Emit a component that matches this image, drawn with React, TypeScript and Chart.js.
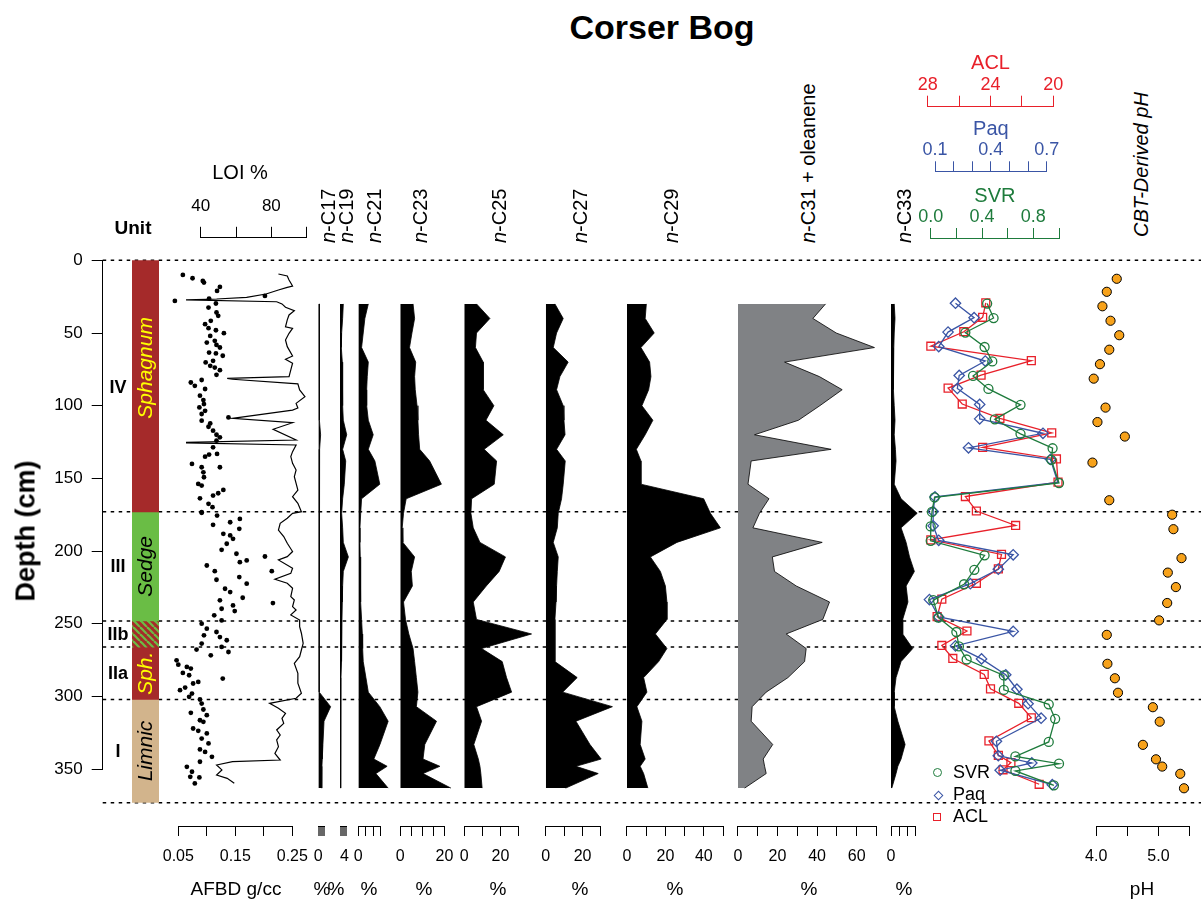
import React, { useEffect, useRef } from 'react';
import { Chart, registerables } from 'chart.js';

Chart.register(...registerables);

// ------------------------------------------------------------------ data
const depthTicks = [0, 50, 100, 150, 200, 250, 300, 350];
const unitBoundaries = [0, 173, 248, 266, 302, 373];
const unitStart = [0, 173, 248, 266, 302];
const unitEnd = [173, 248, 266, 302, 373];
const unitVegetation = ['Sphagnum', 'Sedge', '', 'Sph.', 'Limnic'];
const unitVegetationDepth = [74, 210.5, 257, 284, 337.5];
const unitRoman = ['IV', 'III', 'IIb', 'IIa', 'I'];
const unitRomanDepth = [88, 211, 257.5, 284.5, 338];

const loiDepth = [9.4, 10.8, 13.6, 17.7, 18.6, 20.4, 23.2, 25.5, 26.6, 27.2, 28.5, 30, 32.3, 34.7, 37.6, 41, 45.7, 46.8, 50.2, 54.8, 59.4, 65.8, 68.1, 70.8, 75.4, 80, 81.2, 81.8, 85, 89.2, 93.8, 98.4, 101.6, 103, 108.7, 111.7, 116.2, 123.6, 125.4, 127, 131.6, 135, 139.6, 144.2, 148.8, 153.4, 158, 162.6, 167.1, 172.9, 174, 177.4, 180.9, 185.5, 190, 194.6, 200.3, 203.8, 206.1, 211.8, 215.3, 219.4, 222.1, 225.6, 231.3, 233.6, 238.2, 240.5, 243.9, 247.4, 252, 256.5, 263.4, 268, 272.6, 277.2, 284, 290.9, 297.8, 301.2, 304.7, 308.1, 311.6, 315, 318.5, 323, 326.5, 329.9, 334.5, 339.1, 343.7, 344.8, 347.1, 350.5, 354, 356.3, 359.7];
const loiValue = [84, 89, 90, 92, 89, 84, 77, 66, 49, 30, 83, 86, 88, 93, 90, 89, 88, 92, 90, 88, 89, 92, 88, 92, 91, 90, 55, 58, 95, 96, 99, 94, 95, 92, 58, 92, 81, 94, 25, 94, 92, 91, 92, 94, 93, 94, 95, 92, 95, 97, 92, 89, 85, 84, 87, 89, 92, 89, 84, 92, 91, 82, 89, 92, 91, 93, 92, 94, 91, 96, 96, 97, 98, 97, 96, 93, 95, 95, 97, 94, 79, 84, 88, 86, 87, 83, 85, 83, 84, 82, 85, 58, 49, 52, 49, 55, 59];

const afbdDepth = [9.4, 11.7, 13.5, 14.7, 17.7, 20.4, 23.9, 25.7, 27.3, 29.1, 31.9, 35.3, 37.6, 41, 43.3, 46.1, 47.5, 49.5, 51.4, 54.8, 56, 57.6, 59.4, 62.9, 63.5, 65.1, 68.6, 69.7, 72, 73.2, 75, 78.2, 81.8, 83.5, 85.8, 88, 92.6, 95.6, 98.4, 100.7, 103, 105.2, 107.6, 109.8, 111.7, 114, 116.7, 119.5, 121.3, 123.6, 128.2, 132.7, 133.2, 134.6, 139.6, 141.9, 141.9, 145.4, 148.8, 153.4, 154.5, 157.5, 159.8, 161.4, 163.3, 167.1, 169.4, 172.9, 173.3, 175.2, 177.5, 179.8, 181.6, 184.3, 187.8, 188.9, 191.2, 194.6, 198.8, 201.5, 203.4, 206.1, 207.3, 209.6, 213.5, 213.5, 217.6, 219.4, 222.1, 225.6, 227.9, 231.8, 233.6, 235.5, 237.1, 239.4, 241, 243.9, 247.4, 249.7, 253.1, 255.4, 257.7, 258.9, 261.1, 263.4, 265.7, 267.5, 269.2, 271.5, 274.9, 277.9, 279.5, 280.6, 283.6, 285.2, 287.5, 289.8, 290.9, 293.7, 295.5, 297.8, 300.1, 301.9, 304.7, 308.8, 311.1, 312.7, 316.2, 317.3, 321.9, 323.5, 325.3, 328.8, 332.2, 336.3, 338, 341.4, 344.8, 348.3, 351.7, 355.2, 355.6, 359.7];
const afbdValue = [0.058, 0.075, 0.093, 0.095, 0.123, 0.118, 0.202, 0.104, 0.044, 0.116, 0.103, 0.117, 0.12, 0.107, 0.097, 0.103, 0.116, 0.13, 0.106, 0.114, 0.1, 0.117, 0.123, 0.104, 0.116, 0.128, 0.111, 0.098, 0.106, 0.114, 0.123, 0.117, 0.091, 0.072, 0.079, 0.097, 0.088, 0.094, 0.095, 0.087, 0.097, 0.091, 0.138, 0.091, 0.106, 0.103, 0.111, 0.117, 0.123, 0.117, 0.111, 0.118, 0.104, 0.097, 0.074, 0.123, 0.091, 0.094, 0.095, 0.085, 0.091, 0.129, 0.12, 0.111, 0.088, 0.103, 0.11, 0.091, 0.091, 0.118, 0.158, 0.141, 0.111, 0.157, 0.129, 0.141, 0.146, 0.135, 0.126, 0.152, 0.202, 0.17, 0.158, 0.1, 0.214, 0.114, 0.157, 0.117, 0.17, 0.132, 0.141, 0.163, 0.123, 0.216, 0.146, 0.126, 0.149, 0.113, 0.126, 0.091, 0.1, 0.117, 0.095, 0.123, 0.135, 0.091, 0.126, 0.082, 0.138, 0.107, 0.047, 0.05, 0.065, 0.072, 0.058, 0.069, 0.128, 0.085, 0.076, 0.062, 0.053, 0.074, 0.069, 0.088, 0.091, 0.094, 0.072, 0.1, 0.088, 0.094, 0.076, 0.085, 0.1, 0.091, 0.103, 0.088, 0.097, 0.109, 0.088, 0.065, 0.074, 0.071, 0.087, 0.079];

const sampleDepth = [30, 40, 50, 60, 70, 80, 89, 100, 110, 120, 130, 138, 154, 164, 174, 184, 194, 204, 214, 224, 235, 247, 257, 267, 276, 287, 297, 307, 317, 333, 343, 348, 353, 363];
const nC17 = [0.9, 0.9, 0.8, 0.8, 0.9, 1.0, 1.0, 1.2, 1.4, 2.1, 1.2, 1.0, 1.0, 0.9, 0.9, 0.9, 0.9, 0.9, 0.9, 0.8, 0.8, 0.8, 0.8, 0.8, 0.8, 0.8, 0.9, 11.2, 5.2, 4.2, 3.6, 3.3, 3.3, 3.0];
const nC19 = [3.0, 2.4, 1.5, 1.2, 2.1, 2.4, 2.4, 2.4, 3.0, 6.1, 2.4, 5.2, 3.9, 2.4, 1.5, 2.4, 3.0, 7.6, 3.0, 2.4, 2.1, 1.8, 1.5, 1.5, 1.2, 0.9, 0.9, 0.6, 0.6, 0.6, 0.6, 0.6, 0.6, 0.6];
const nC21 = [6.7, 4.4, 3.3, 2.2, 6.7, 6.0, 5.6, 5.6, 6.7, 10.0, 6.7, 11.1, 14.4, 2.2, 1.6, 1.1, 1.1, 1.3, 1.3, 1.6, 1.8, 2.2, 2.7, 2.9, 3.3, 5.1, 6.7, 14.4, 20.0, 14.5, 10.4, 19.3, 11.8, 20.0];
const nC23 = [5.8, 6.5, 5.3, 4.2, 7.0, 6.5, 6.8, 7.6, 8.0, 8.3, 8.8, 13.3, 18.6, 2.7, 1.5, 0.9, 1.2, 6.5, 5.0, 5.5, 1.5, 2.4, 3.9, 5.8, 6.5, 7.3, 8.0, 7.3, 16.4, 11.1, 10.3, 17.9, 10.3, 22.9];
const nC25 = [6.8, 14.2, 6.8, 6.2, 10.5, 10.5, 10.5, 16.4, 12.0, 21.6, 11.0, 17.9, 16.6, 4.1, 3.7, 5.0, 8.7, 22.8, 19.3, 12.2, 5.0, 6.8, 37.2, 9.6, 21.0, 23.4, 26.2, 6.8, 9.6, 5.3, 7.8, 8.7, 9.2, 9.9];
const nC27 = [5.0, 9.5, 5.9, 4.1, 12.2, 7.7, 5.9, 9.5, 9.9, 10.5, 5.9, 10.6, 9.5, 8.6, 6.8, 6.3, 4.1, 6.8, 6.3, 5.9, 5.6, 5.0, 5.0, 5.0, 5.0, 17.1, 9.2, 36.2, 16.4, 24.0, 30.1, 16.4, 28.5, 10.8];
const nC29 = [10.1, 9.5, 14.2, 7.3, 11.8, 12.5, 11.3, 7.8, 13.5, 9.5, 4.9, 7.3, 7.3, 39.9, 43.4, 48.6, 26.0, 12.2, 17.4, 20.0, 20.8, 20.8, 14.8, 20.8, 16.5, 8.7, 10.4, 5.2, 7.8, 6.9, 9.5, 6.9, 8.7, 10.9];
const nC31Oleanene = [44.3, 37.9, 49.7, 69.0, 23.6, 41.2, 52.7, 41.4, 30.6, 8.4, 47.1, 6.7, 5.1, 15.7, 10.9, 7.6, 42.6, 17.4, 18.5, 29.5, 46.3, 42.9, 24.4, 34.5, 33.7, 25.3, 14.3, 7.2, 6.7, 17.6, 12.8, 13.5, 14.3, 3.4];
const nC33 = [0.8, 1.0, 0.8, 0.7, 0.5, 0.6, 0.7, 0.8, 1.0, 0.8, 1.1, 1.25, 0.8, 2.5, 6.5, 2.5, 3.75, 4.6, 5.8, 3.75, 4.2, 2.9, 2.9, 5.4, 2.5, 1.25, 0.8, 0.8, 1.7, 3.5, 2.5, 1.7, 1.25, 0.2];

const acl = [24.3, 24.5, 25.7, 27.8, 21.4, 24.6, 26.7, 25.8, 23.4, 20.1, 24.5, 19.8, 19.7, 25.6, 24.9, 22.4, 27.8, 23.3, 23.5, 24.9, 27.1, 27.4, 25.5, 27.1, 26.4, 24.4, 24.0, 22.2, 21.4, 24.1, 23.5, 22.7, 23.2, 20.9];
const paq = [0.21, 0.31, 0.17, 0.12, 0.37, 0.23, 0.22, 0.34, 0.34, 0.68, 0.28, 0.72, 0.76, 0.10, 0.09, 0.09, 0.12, 0.52, 0.44, 0.29, 0.07, 0.12, 0.52, 0.21, 0.35, 0.48, 0.54, 0.60, 0.67, 0.43, 0.44, 0.62, 0.45, 0.73];
const svr = [0.44, 0.49, 0.27, 0.42, 0.48, 0.33, 0.45, 0.70, 0.50, 0.70, 0.95, 0.94, 1.0, 0.03, 0.01, 0.0, 0.0, 0.42, 0.34, 0.26, 0.02, 0.06, 0.20, 0.22, 0.28, 0.57, 0.57, 0.92, 0.97, 0.92, 0.66, 1.0, 0.66, 0.96];

const phDepth = [11, 20, 30, 40, 50, 60, 70, 80, 89, 100, 110, 120, 130, 138, 154, 164, 174, 184, 204, 214, 224, 235, 247, 257, 267, 277, 287, 297, 307, 317, 333, 343, 348, 353, 363];
const phValue = [4.33, 4.17, 4.1, 4.23, 4.37, 4.21, 4.06, 3.96, 3.87, 4.15, 4.02, 4.46, 3.79, 3.94, 3.7, 4.21, 5.22, 5.24, 5.37, 5.15, 5.28, 5.14, 5.01, 4.17, 3.78, 4.18, 4.3, 4.35, 4.91, 5.02, 4.75, 4.96, 5.06, 5.35, 5.41];

// tick values and labelled ticks
const afbdTicks = [0.05, 0.1, 0.15, 0.2, 0.25];
const afbdLabels = [0.05, 0.15, 0.25];
const loiTicks = [40, 60, 80, 100];
const loiLabels = [40, 80];
const c17Ticks = [0, 1, 2, 3, 4, 5, 6];
const c17Labels = [0];
const c19Ticks = [0, 1, 2, 3, 4, 5, 6];
const c19Labels = [4];
const c21Ticks = [0, 5, 10, 15];
const c21Labels = [0];
const c23Ticks = [0, 5, 10, 15, 20];
const c23Labels = [0, 20];
const c25Ticks = [0, 10, 20, 30];
const c25Labels = [0, 20];
const c27Ticks = [0, 10, 20, 30];
const c27Labels = [0, 20];
const c29Ticks = [0, 10, 20, 30, 40, 50];
const c29Labels = [0, 20, 40];
const c31Ticks = [0, 10, 20, 30, 40, 50, 60, 70];
const c31Labels = [0, 20, 40, 60];
const c33Ticks = [0, 2, 4, 6];
const c33Labels = [0];
const aclTicks = [20, 22, 24, 26, 28];
const aclLabels = [20, 24, 28];
const paqTicks = [0.1, 0.2, 0.3, 0.4, 0.5, 0.6, 0.7];
const paqLabels = [0.1, 0.4, 0.7];
const svrTicks = [0, 0.2, 0.4, 0.6, 0.8, 1.0];
const svrLabels = [0, 0.4, 0.8];
const phTicks = [4, 4.5, 5, 5.5];
const phLabels = [4, 5];

// ------------------------------------------------------------------ style / layout
const FONT = '"Liberation Sans", Arial, Helvetica, sans-serif';
const Y0 = 260.3; // pixel of depth 0
const K = 1.454; // pixels per cm of depth
const AXIS_Y = 826; // bottom axes line
const BROWN = '#A52A2A';
const GREEN = '#6ABD45';
const TAN = '#D2B48C';
const RED = '#E8202A';
const BLUE = '#3A55A5';
const DGREEN = '#1E7B3C';
const ORANGE = '#F7A21B';

type Box = { l: number; r: number; t: number; b: number; leftW?: number; topH?: number; botH?: number; mL?: number; mR?: number; mT?: number; mB?: number };

function frame(box: Box) {
  const leftW = box.leftW ?? 0, topH = box.topH ?? 0, botH = box.botH ?? 0;
  const mL = box.mL ?? 14, mR = box.mR ?? 14, mT = box.mT ?? 3, mB = box.mB ?? 3;
  const cl = Math.floor(box.l - leftW - mL);
  const ct = Math.floor(box.t - topH - mT);
  const cr = Math.ceil(box.r + mR);
  const cb = Math.ceil(box.b + botH + mB);
  return {
    left: cl, top: ct, width: cr - cl, height: cb - ct,
    padding: { left: box.l - leftW - cl, right: cr - box.r, top: box.t - topH - ct, bottom: cb - box.b - botH },
    yMin: (box.t - Y0) / K, yMax: (box.b - Y0) / K,
  };
}

function Panel({ box, make }: { box: Box; make: (f: any, ctx: CanvasRenderingContext2D) => any }) {
  const ref = useRef<HTMLCanvasElement | null>(null);
  const f = frame(box);
  useEffect(() => {
    const cv = ref.current;
    if (!cv) return;
    const chart = new Chart(cv, make(f, cv.getContext('2d') as CanvasRenderingContext2D));
    return () => chart.destroy();
  }, []);
  return (
    <canvas ref={ref} width={f.width} height={f.height}
      style={{ position: 'absolute', left: f.left, top: f.top, width: f.width, height: f.height }} />
  );
}

function baseOptions(f: any, scales: any, extra: any = {}) {
  return {
    responsive: false, maintainAspectRatio: false, animation: false, devicePixelRatio: 1, events: [],
    layout: { padding: f.padding },
    plugins: { legend: { display: false }, tooltip: { enabled: false }, title: { display: false } },
    scales,
    ...extra,
  };
}

const hiddenY = (f: any) => ({ type: 'linear', display: false, reverse: true, min: f.yMin, max: f.yMax });

type AxisSpec = { pos: 'top' | 'bottom'; min: number; max: number; ticks: number[]; labels: number[]; digits: number; color?: string; size?: number; pad?: number; h: number; reverse?: boolean; tickLen?: number; tickW?: number; title?: string };

function rAxis(a: AxisSpec) {
  const color = a.color ?? '#000';
  return {
    type: 'linear', position: a.pos, min: a.min, max: a.max, reverse: !!a.reverse,
    afterBuildTicks: (s: any) => { s.ticks = a.ticks.map((v) => ({ value: v })); },
    afterFit: (s: any) => { s.height = a.h; s.paddingLeft = 0; s.paddingRight = 0; },
    border: { display: false },
    grid: { display: true, drawOnChartArea: false, drawTicks: true, tickLength: a.tickLen ?? 10, tickColor: color, tickWidth: a.tickW ?? 1, color },
    title: a.title ? { display: true, text: a.title, color, font: { family: FONT, size: 20 }, padding: 0 } : { display: false },
    ticks: {
      autoSkip: false, maxRotation: 0, minRotation: 0, padding: a.pad ?? 11, color,
      font: { family: FONT, size: a.size ?? 16 },
      callback: (v: number) => {
        const hit = a.labels.find((l) => Math.abs(l - v) < 1e-9);
        return hit === undefined ? '' : hit.toFixed(a.digits);
      },
    },
  };
}

// draws the axis line only between the first and the last tick (R style)
function axisLinePlugin(id: string, color: string) {
  return {
    id: 'rAxisLine',
    afterDraw(chart: any) {
      const s = chart.scales[id];
      if (!s || !s.ticks.length) return;
      const a = s.getPixelForValue(s.ticks[0].value);
      const b = s.getPixelForValue(s.ticks[s.ticks.length - 1].value);
      const x1 = Math.round(Math.min(a, b) - 0.5);
      const x2 = Math.round(Math.max(a, b) - 0.5) + 1;
      const y = s.position === 'top' ? Math.round(s.bottom) - 0.5 : Math.round(s.top) + 0.5;
      const ctx = chart.ctx;
      ctx.save();
      ctx.strokeStyle = color;
      ctx.lineWidth = 1;
      ctx.beginPath();
      ctx.moveTo(x1, y);
      ctx.lineTo(x2, y);
      ctx.stroke();
      ctx.restore();
    },
  };
}

// ------------------------------------------------------------------ chart builders
function depthChart(f: any) {
  return {
    type: 'scatter',
    data: {
      datasets: unitBoundaries.map((d) => ({
        data: [{ x: 0, y: d }, { x: 1, y: d }], showLine: true, borderColor: '#000', borderWidth: 1.5,
        borderDash: [3.5, 4.5], pointRadius: 0, clip: false,
      })),
    },
    options: baseOptions(f, {
      x: { type: 'linear', display: false, min: 0, max: 1 },
      y: {
        type: 'linear', position: 'left', reverse: true, min: f.yMin, max: f.yMax,
        afterBuildTicks: (s: any) => { s.ticks = depthTicks.map((v) => ({ value: v })); },
        afterFit: (s: any) => { s.width = 100; s.paddingTop = 0; s.paddingBottom = 0; },
        border: { display: true, color: '#000', width: 1 },
        grid: { display: true, drawOnChartArea: false, drawTicks: true, tickLength: 11, tickColor: '#000', tickWidth: 1 },
        ticks: { autoSkip: false, padding: 9, color: '#000', font: { family: FONT, size: 17 }, callback: (v: number) => String(v) },
      },
    }),
  };
}

function hatch(ctx: CanvasRenderingContext2D) {
  const c = document.createElement('canvas');
  c.width = 7; c.height = 7;
  const g = c.getContext('2d') as CanvasRenderingContext2D;
  g.fillStyle = BROWN; g.fillRect(0, 0, 7, 7);
  g.strokeStyle = GREEN; g.lineWidth = 2.2;
  for (const o of [-7, 0, 7]) { g.beginPath(); g.moveTo(o, 0); g.lineTo(o + 7, 7); g.stroke(); }
  return ctx.createPattern(c, 'repeat');
}

const unitTextPlugin = {
  id: 'unitText',
  afterDatasetsDraw(chart: any) {
    const { ctx, chartArea } = chart;
    const y = chart.scales.y;
    const cx = (chartArea.left + chartArea.right) / 2;
    const vegColor = ['#FFFF00', '#000', '#000', '#FFFF00', '#000'];
    ctx.save();
    ctx.textAlign = 'center';
    ctx.textBaseline = 'middle';
    unitVegetation.forEach((t, i) => {
      if (!t) return;
      ctx.save();
      ctx.translate(cx, y.getPixelForValue(unitVegetationDepth[i]));
      ctx.rotate(-Math.PI / 2);
      ctx.font = `italic 21px ${FONT}`;
      ctx.fillStyle = vegColor[i];
      ctx.fillText(t, 0, 1);
      ctx.restore();
    });
    ctx.font = `bold 18px ${FONT}`;
    ctx.fillStyle = '#000';
    unitRoman.forEach((t, i) => ctx.fillText(t, chartArea.left - 14, y.getPixelForValue(unitRomanDepth[i])));
    ctx.restore();
  },
};

function unitChart(f: any, ctx: CanvasRenderingContext2D) {
  const fills = [BROWN, GREEN, hatch(ctx), BROWN, TAN];
  return {
    type: 'bar',
    data: {
      labels: ['Unit'],
      datasets: unitStart.map((s, i) => ({
        data: [[s, unitEnd[i]]], backgroundColor: fills[i], borderWidth: 0, grouped: false,
        barPercentage: 1, categoryPercentage: 1,
      })),
    },
    options: baseOptions(f, { x: { type: 'category', display: false }, y: hiddenY(f) }),
    plugins: [unitTextPlugin],
  };
}

function loiChart(f: any) {
  return {
    type: 'scatter',
    data: { datasets: [{ data: loiDepth.map((d, i) => ({ x: loiValue[i], y: d })), showLine: true, borderColor: '#000', borderWidth: 1.2, pointRadius: 0, clip: false }] },
    options: baseOptions(f, {
      x: rAxis({ pos: 'top', min: 40, max: 100, ticks: loiTicks, labels: loiLabels, digits: 0, size: 17, pad: 10, h: 45, tickLen: 11.5 }),
      y: hiddenY(f),
    }),
    plugins: [axisLinePlugin('x', '#000')],
  };
}

function afbdChart(f: any) {
  return {
    type: 'scatter',
    data: { datasets: [{ data: afbdDepth.map((d, i) => ({ x: afbdValue[i], y: d })), pointRadius: 2.4, pointBackgroundColor: '#000', pointBorderWidth: 0, clip: false }] },
    options: baseOptions(f, {
      x: rAxis({ pos: 'bottom', min: 0.05, max: 0.25, ticks: afbdTicks, labels: afbdLabels, digits: 2, h: 40 }),
      y: hiddenY(f),
    }),
    plugins: [axisLinePlugin('x', '#000')],
  };
}

function fillChart(values: number[], ticks: number[], labels: number[], ppu: number, width: number, color: string, tickW: number) {
  return (f: any) => ({
    type: 'line',
    data: {
      datasets: [{
        data: sampleDepth.map((d, i) => ({ x: values[i], y: d })), fill: 'origin', backgroundColor: color,
        borderColor: '#000', borderWidth: 0.8, pointRadius: 0, tension: 0, clip: false,
      }],
    },
    options: baseOptions(f, {
      x: rAxis({ pos: 'bottom', min: 0, max: width / ppu, ticks, labels, digits: 0, h: 40, tickW }),
      y: hiddenY(f),
    }, { indexAxis: 'y' }),
    plugins: [axisLinePlugin('x', '#000')],
  });
}

function seriesChart(values: number[], color: string, style: string, radius: number, axis: AxisSpec) {
  return (f: any) => ({
    type: 'scatter',
    data: {
      datasets: [{
        data: sampleDepth.map((d, i) => ({ x: values[i], y: d })), showLine: true, borderColor: color, borderWidth: 1.3,
        pointStyle: style, pointRadius: radius, pointBorderColor: color, pointBorderWidth: 1.3,
        pointBackgroundColor: 'rgba(0,0,0,0)', clip: false,
      }],
    },
    options: baseOptions(f, { x: rAxis(axis), y: hiddenY(f) }),
    plugins: [axisLinePlugin('x', color)],
  });
}

function phChart(f: any) {
  return {
    type: 'scatter',
    data: { datasets: [{ data: phDepth.map((d, i) => ({ x: phValue[i], y: d })), pointRadius: 4.6, pointBackgroundColor: ORANGE, pointBorderColor: '#000', pointBorderWidth: 1, clip: false }] },
    options: baseOptions(f, {
      x: rAxis({ pos: 'bottom', min: 4, max: 5.5, ticks: phTicks, labels: phLabels, digits: 1, h: 40 }),
      y: hiddenY(f),
    }),
    plugins: [axisLinePlugin('x', '#000')],
  };
}

// panel geometry: left pixel of 0, px per unit, chart-area width
const fillPanels = [
  { v: nC17, t: c17Ticks, lb: c17Labels, x0: 318.3, ppu: 1.1, w: 16, c: '#000', tw: 0.6 },
  { v: nC19, t: c19Ticks, lb: c19Labels, x0: 340.0, ppu: 1.1, w: 12, c: '#000', tw: 0.6 },
  { v: nC21, t: c21Ticks, lb: c21Labels, x0: 358.3, ppu: 1.493, w: 34, c: '#000', tw: 1 },
  { v: nC23, t: c23Ticks, lb: c23Labels, x0: 400.2, ppu: 2.215, w: 56, c: '#000', tw: 1 },
  { v: nC25, t: c25Ticks, lb: c25Labels, x0: 464.2, ppu: 1.81, w: 72, c: '#000', tw: 1 },
  { v: nC27, t: c27Ticks, lb: c27Labels, x0: 545.7, ppu: 1.843, w: 72, c: '#000', tw: 1 },
  { v: nC29, t: c29Ticks, lb: c29Labels, x0: 626.9, ppu: 1.924, w: 100, c: '#000', tw: 1 },
  { v: nC31Oleanene, t: c31Ticks, lb: c31Labels, x0: 737.9, ppu: 1.979, w: 145, c: '#808285', tw: 1 },
  { v: nC33, t: c33Ticks, lb: c33Labels, x0: 891.0, ppu: 4.03, w: 30, c: '#000', tw: 1 },
];

// ------------------------------------------------------------------ text helpers
function T({ x, y, s, b, i, c, left, children }: any) {
  return (
    <div style={{
      position: 'absolute', left: x, top: y, transform: left ? 'translate(0,-50%)' : 'translate(-50%,-50%)',
      fontFamily: FONT, fontSize: s, fontWeight: b ? 'bold' : 'normal', fontStyle: i ? 'italic' : 'normal',
      color: c ?? '#000', whiteSpace: 'nowrap', lineHeight: 1,
    }}>{children}</div>
  );
}

function VT({ cx, bottom, s, i, children }: any) {
  return (
    <div style={{
      position: 'absolute', left: cx - s / 2, top: bottom, transformOrigin: '0 0', transform: 'rotate(-90deg)',
      fontFamily: FONT, fontSize: s, lineHeight: 1, whiteSpace: 'nowrap', fontStyle: i ? 'italic' : 'normal', color: '#000',
    }}>{children}</div>
  );
}

const headers = [
  { cx: 328, t: 'C17' }, { cx: 346, t: 'C19' }, { cx: 374, t: 'C21' }, { cx: 420, t: 'C23' },
  { cx: 499, t: 'C25' }, { cx: 580, t: 'C27' }, { cx: 671, t: 'C29' }, { cx: 808, t: 'C31 + oleanene' }, { cx: 904, t: 'C33' },
];
const unitTitles = [322, 336, 369, 424, 498, 580, 675, 809, 904];

export default function App() {
  return (
    <div style={{ position: 'fixed', left: 0, top: 0, width: 1201, height: 901, background: '#fff', overflow: 'hidden' }}>
      <Panel box={{ l: 102.7, r: 1201, t: Y0, b: Y0 + 350 * K, leftW: 100, mL: 0, mR: 0, mT: 12, mB: 45 }} make={depthChart} />
      <Panel box={{ l: 132, r: 159, t: Y0, b: Y0 + 373 * K, mL: 34, mR: 4, mT: 4, mB: 4 }} make={unitChart} />
      <Panel box={{ l: 178.3, r: 292.3, t: 250, b: AXIS_Y, botH: 40, mL: 20, mR: 20 }} make={afbdChart} />
      <Panel box={{ l: 200.7, r: 306.7, t: 238.3, b: AXIS_Y, topH: 45, mL: 14, mR: 14 }} make={loiChart} />
      {fillPanels.map((p, k) => (
        <Panel key={k} box={{ l: p.x0, r: p.x0 + p.w, t: 250, b: AXIS_Y, botH: 40, mL: 12, mR: 12 }}
          make={fillChart(p.v, p.t, p.lb, p.ppu, p.w, p.c, p.tw)} />
      ))}
      <Panel box={{ l: 927.7, r: 1053.3, t: 106.7, b: 800, topH: 55, mL: 16, mR: 16 }}
        make={seriesChart(acl, RED, 'rect', 5.6, { pos: 'top', min: 20, max: 28, reverse: true, ticks: aclTicks, labels: aclLabels, digits: 0, color: RED, size: 18, pad: 0, h: 55, tickLen: 11, title: 'ACL' })} />
      <Panel box={{ l: 935, r: 1046.7, t: 172.3, b: 800, topH: 55, mL: 16, mR: 16 }}
        make={seriesChart(paq, BLUE, 'rectRot', 5.2, { pos: 'top', min: 0.1, max: 0.7, ticks: paqTicks, labels: paqLabels, digits: 1, color: BLUE, size: 18, pad: 0, h: 55, tickLen: 11, title: 'Paq' })} />
      <Panel box={{ l: 930.7, r: 1059, t: 239, b: 800, topH: 55, mL: 16, mR: 16 }}
        make={seriesChart(svr, DGREEN, 'circle', 4.5, { pos: 'top', min: 0, max: 1, ticks: svrTicks, labels: svrLabels, digits: 1, color: DGREEN, size: 18, pad: 0, h: 55, tickLen: 11, title: 'SVR' })} />
      <Panel box={{ l: 1096.2, r: 1189.6, t: 250, b: AXIS_Y, botH: 40, mL: 25, mR: 11 }} make={phChart} />

      <T x={662} y={27} s={34} b>Corser Bog</T>
      <T x={133} y={227} s={19} b>Unit</T>
      <T x={240} y={172} s={20}>LOI %</T>
      <div style={{
        position: 'absolute', left: 26, top: 531, transform: 'translate(-50%,-50%) rotate(-90deg)',
        fontFamily: FONT, fontSize: 27, fontWeight: 'bold', whiteSpace: 'nowrap', lineHeight: 1,
      }}>Depth (cm)</div>
      {headers.map((h) => (
        <VT key={h.t} cx={h.cx} bottom={243} s={20}><span style={{ fontStyle: 'italic' }}>n</span>-{h.t}</VT>
      ))}
      <VT cx={1141} bottom={237} s={20} i>CBT-Derived pH</VT>
      <T x={236} y={888} s={19}>AFBD g/cc</T>
      {unitTitles.map((x, k) => <T key={k} x={x} y={888} s={19}>%</T>)}
      <T x={1142} y={888} s={19}>pH</T>

      {/* legend */}
      <div style={{ position: 'absolute', left: 932.8, top: 767.8, width: 9, height: 9, border: `1.4px solid ${DGREEN}`, borderRadius: '50%', boxSizing: 'border-box' }} />
      <div style={{ position: 'absolute', left: 934.8, top: 791.5, width: 7, height: 7, border: `1.4px solid ${BLUE}`, transform: 'rotate(45deg)', boxSizing: 'border-box' }} />
      <div style={{ position: 'absolute', left: 932.7, top: 812.7, width: 8, height: 8, border: `1.4px solid ${RED}`, boxSizing: 'border-box' }} />
      <T x={953} y={772} s={18} left>SVR</T>
      <T x={953} y={794} s={18} left>Paq</T>
      <T x={953} y={816} s={18} left>ACL</T>
    </div>
  );
}
